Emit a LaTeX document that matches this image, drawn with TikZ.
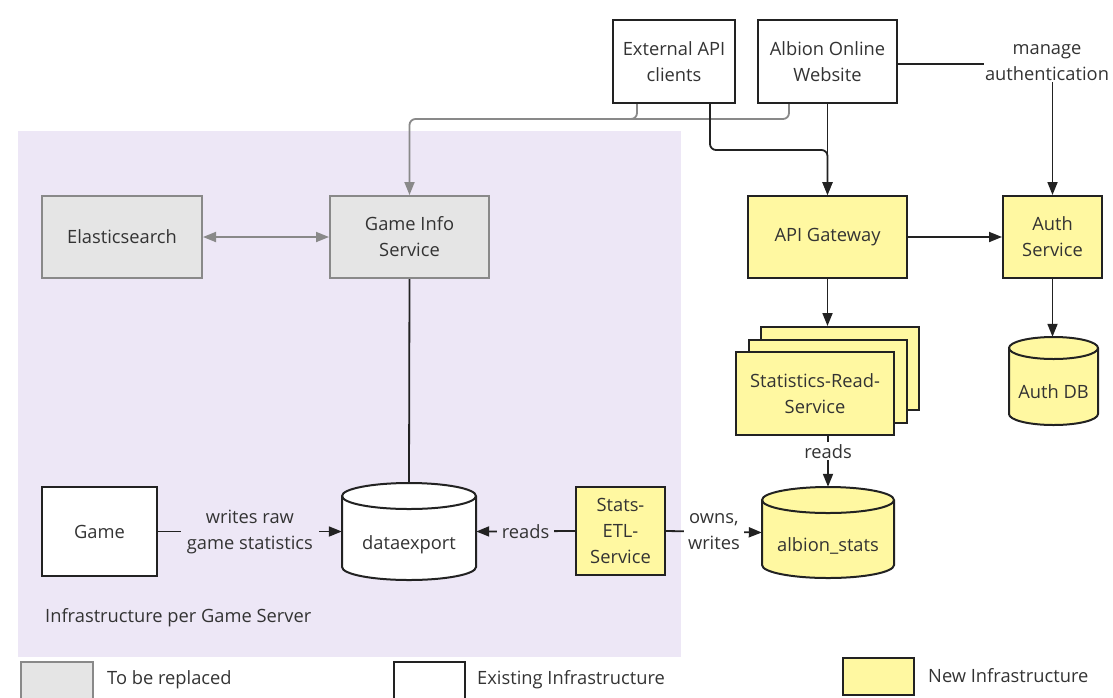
\documentclass[tikz,border=0pt]{standalone}
\usepackage{fontspec}
\setmainfont{Open Sans}
\usetikzlibrary{arrows.meta,calc}
\definecolor{regionbg}{HTML}{EDE7F6}
\definecolor{newfill}{HTML}{FFF8A1}
\definecolor{oldfill}{HTML}{E5E5E5}
\definecolor{oldline}{HTML}{898989}
\definecolor{inkline}{HTML}{222222}
\definecolor{txt}{HTML}{333333}
\tikzset{
  base/.style={rectangle, line width=2pt, draw=inkline, text=txt, align=center, inner sep=0pt, font=\fontsize{18.3}{26}\selectfont},
  oldbox/.style={base, fill=oldfill, draw=oldline},
  existbox/.style={base, fill=white},
  newbox/.style={base, fill=newfill},
  lbl/.style={text=txt, align=center, inner sep=1pt, font=\fontsize{18.3}{26}\selectfont},
  conn/.style={line width=1.8pt, draw=inkline},
  arr/.style={conn, -{Triangle[length=13pt,width=10pt]}},
  garr/.style={line width=1.8pt, draw=oldline, -{Triangle[length=13pt,width=10pt]}},
}
% cylinder: name, xl, ytop, xr, ybot, ry, fill, text
\newcommand\dbcyl[8]{%
  \pgfmathsetmacro\cylrx{(#4-#2)/2}%
  \pgfmathsetmacro\cylcx{(#4+#2)/2}%
  \pgfmathsetmacro\cylcy{(#3+#5)/2}%
  \pgfmathsetmacro\cyltx{(#3+2*#6+#5)/2}%
  \node[minimum width=#4pt-#2pt, minimum height=#5pt-#3pt, inner sep=0pt] (#1) at (\cylcx,\cylcy) {};
  \path[line width=2pt, draw=inkline, fill=#7] (#2,#3+#6) -- (#2,#5-#6)
     arc[start angle=180, end angle=360, x radius=\cylrx pt, y radius=#6pt]
     -- (#4,#3+#6)
     arc[start angle=0, end angle=180, x radius=\cylrx pt, y radius=#6pt] -- cycle;
  \draw[line width=2pt, draw=inkline] (#2,#3+#6)
     arc[start angle=180, end angle=360, x radius=\cylrx pt, y radius=#6pt];
  \node[lbl] at (\cylcx,\cyltx) {#8};
}
\begin{document}
\begin{tikzpicture}[x=1pt,y=-1pt]
\useasboundingbox (0,0) rectangle (1113,697);
% region
\fill[regionbg] (18,131) rectangle (681,657);
\node[lbl, anchor=west] (regionlbl) at (44,618) {Infrastructure per Game Server};

% top boxes
\node[existbox, minimum width=122pt, minimum height=83pt] (ext) at (674,61.5) {External API\\clients};
\node[existbox, minimum width=139pt, minimum height=83pt] (web) at (827.5,61.5) {Albion Online\\Website};
\node[lbl] (ma) at (1047,63) {manage\\authentication};

% second row
\node[oldbox, minimum width=160pt, minimum height=82pt] (es) at (122,237) {Elasticsearch};
\node[oldbox, minimum width=159pt, minimum height=82pt] (gi) at (409.5,237) {Game Info\\Service};
\node[newbox, minimum width=159pt, minimum height=82pt] (api) at (827.5,237) {API Gateway};
\node[newbox, minimum width=99pt, minimum height=82pt] (auth) at (1052.5,237) {Auth\\Service};

% stack
\node[newbox, minimum width=158pt, minimum height=83pt] (srsback) at (840,368.5) {};
\node[newbox, minimum width=158pt, minimum height=83pt] (srsmid) at (827.5,381) {};
\node[newbox, minimum width=158pt, minimum height=83pt] (srs) at (815,393.5) {Statistics-Read-\\Service};

\dbcyl{authdb}{1009}{337}{1098}{425}{11}{newfill}{Auth DB}
\dbcyl{stats}{762}{487}{894}{578}{13}{newfill}{albion\_stats}
\dbcyl{dx}{342}{483}{476}{580}{13}{white}{dataexport}

\node[existbox, minimum width=115pt, minimum height=89pt] (game) at (99.5,531.5) {Game};
\node[newbox, minimum width=89pt, minimum height=88pt] (etl) at (620.5,531) {Stats-\\ETL-\\Service};

% gray connectors
\draw[garr, rounded corners=6pt] ([xshift=-38.5pt]web.south) -- ++(0,15) -| (gi.north);
\draw[line width=1.8pt, draw=oldline, rounded corners=6pt] ([xshift=-37pt]ext.south) |- ++(-20,15);
\draw[line width=1.8pt, draw=oldline, {Triangle[length=13pt,width=10pt]}-{Triangle[length=13pt,width=10pt]}] (es.east) -- (gi.east -| gi.west);

% black connectors
\draw[arr, rounded corners=6pt] ([xshift=36pt]ext.south) |- ($(api.north)+(0,-45)$) -- (api.north);
\draw[arr] (web.south) -- (api.north);
\draw[conn] (web.east |- 0,64) -- (ma.west |- 0,64);
\draw[arr] (auth.north |- ma.south) -- (auth.north);
\draw[arr] (api.east) -- (auth.west);
\draw[arr] (api.south) -- (api.south |- srsback.north);
\draw[arr] (auth.south) -- (auth.south |- authdb.north);
\draw[arr] (stats.north |- srs.south) -- node[pos=0.3, lbl, fill=white, inner sep=2pt] {reads} (stats.north);
\draw[conn] (gi.south) -- (dx.north);
\draw[arr] (game.east) -- node[lbl, fill=regionbg, inner xsep=6pt] {writes raw\\game statistics} (dx.west);
\draw[arr] (etl.west) -- node[lbl, fill=regionbg, inner xsep=5pt] {reads} (dx.east);
\draw[arr] (etl.east) -- node[lbl, fill=white, inner xsep=4pt] {owns,\\writes} (stats.west);

% legend
\node[oldbox, minimum width=72pt, minimum height=40pt, anchor=north west] (leg1) at (20,661) {};
\node[lbl, anchor=west] (leg1t) at (106,680) {To be replaced};
\node[existbox, minimum width=71pt, minimum height=40pt, anchor=north west] (leg2) at (393,661) {};
\node[lbl, anchor=west] (leg2t) at (476,680) {Existing Infrastructure};
\node[newbox, minimum width=71pt, minimum height=37pt, anchor=north west] (leg3) at (842,657) {};
\node[lbl, anchor=west] (leg3t) at (927,676) {New Infrastructure};
\end{tikzpicture}
\end{document}
